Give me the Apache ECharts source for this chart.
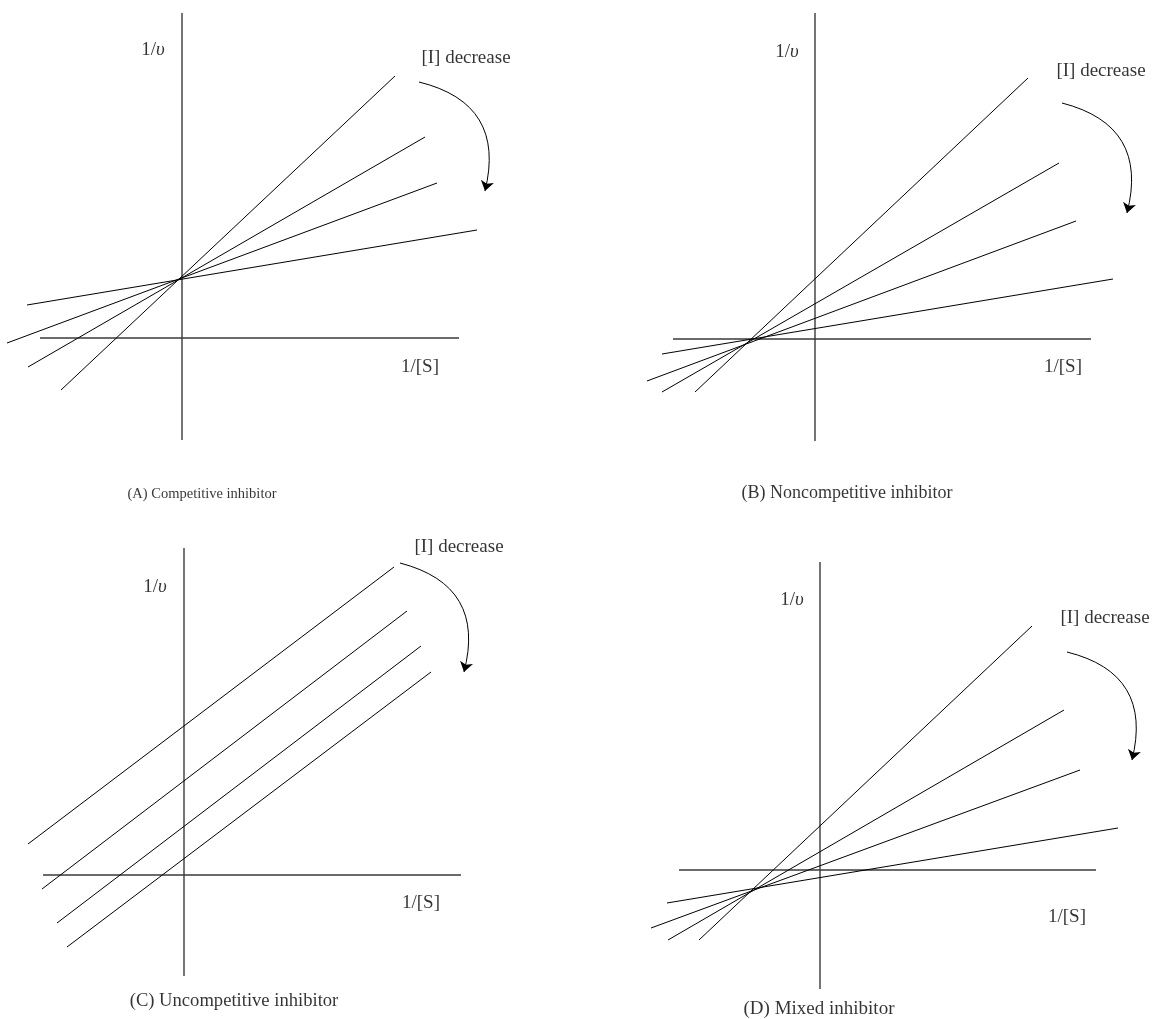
<!DOCTYPE html>
<html>
<head>
<meta charset="utf-8">
<script src="https://cdn.jsdelivr.net/npm/echarts@6/dist/echarts.min.js"></script>
<style>
  html, body { margin: 0; padding: 0; background: #fff; }
  #chart { width: 1158px; height: 1019px; }
</style>
</head>
<body>
<div id="chart"></div>
<script>
// ---- DATA (panel units, origin at the axis crossing, y upward) ----
const panelNames = ["A", "B", "C", "D"];
const captions = ["(A) Competitive inhibitor", "(B) Noncompetitive inhibitor",
                  "(C) Uncompetitive inhibitor", "(D) Mixed inhibitor"];
const yLabel = "1/υ";
const xLabel = "1/[S]";
const trendLabel = "[I] decrease";

// axis extents: [xmin, xmax], [ymin, ymax]
const axisA = [[-142, 277], [-102, 325]];
const axisB = [[-142, 276], [-102, 326]];
const axisC = [[-141, 277], [-101, 327]];
const axisD = [[-141, 276], [-119, 308]];

// inhibitor lines: [x1, y1, x2, y2], from highest [I] to lowest
const linesA = [[-121, -52, 213, 262], [-154, -29, 243, 201], [-175, -5, 255, 155], [-155, 33, 295, 108]];
const linesB = [[-120, -53, 213, 261], [-153, -53, 244, 176], [-168, -42, 261, 118], [-153, -15, 298, 60]];
const linesC = [[-156, 31, 210, 308], [-142, -14, 223, 264], [-127, -48, 237, 229], [-117, -72, 247, 203]];
const linesD = [[-121, -70, 212, 244], [-152, -70, 244, 160], [-169, -58, 260, 100], [-153, -33, 298, 42]];

// ---- LAYOUT ----
const W = 1158, H = 1019;
// pixel position of each panel's axis crossing
const origins = [[182, 338], [815, 339], [184, 875], [820, 870]];
// annotation anchors in panel units
const layout = [
  { yLab: [-29, 288], trend: [284, 280], xLab: [238, -29], cap: [20, -156], capSize: 14.5, arrow: [[237, 256], [303, 147]] },
  { yLab: [-28, 287], trend: [286, 268], xLab: [248, -28], cap: [32, -154], capSize: 18, arrow: [[247, 236], [312, 126]] },
  { yLab: [-29, 288], trend: [275, 328], xLab: [237, -28], cap: [50, -126], capSize: 18.6, arrow: [[216, 312], [280, 203]] },
  { yLab: [-28, 270], trend: [285, 252], xLab: [247, -47], cap: [-1, -139], capSize: 19, arrow: [[247, 218], [312, 110]] }
];
const axesAll = [axisA, axisB, axisC, axisD];
const linesAll = [linesA, linesB, linesC, linesD];

const FONT = '"Liberation Serif", "DejaVu Serif", serif';

const grids = [], xAxes = [], yAxes = [], series = [];
for (let i = 0; i < 4; i++) {
  const [ox, oy] = origins[i];
  grids.push({ left: 0, top: 0, right: 0, bottom: 0, containLabel: false, show: false });
  xAxes.push({ type: 'value', gridIndex: i, min: -ox, max: W - ox, show: false });
  yAxes.push({ type: 'value', gridIndex: i, min: -(H - oy), max: oy, show: false });

  const ax = axesAll[i];
  // coordinate axes
  series.push({
    type: 'line', xAxisIndex: i, yAxisIndex: i, symbol: 'none', silent: true,
    data: [[ax[0][0], 0], [ax[0][1], 0]],
    lineStyle: { color: '#3a3a3a', width: 1.4 }
  });
  series.push({
    type: 'line', xAxisIndex: i, yAxisIndex: i, symbol: 'none', silent: true,
    data: [[0, ax[1][0]], [0, ax[1][1]]],
    lineStyle: { color: '#3a3a3a', width: 1.4 }
  });
  // inhibitor lines
  linesAll[i].forEach(function (l) {
    series.push({
      type: 'line', xAxisIndex: i, yAxisIndex: i, symbol: 'none', silent: true,
      data: [[l[0], l[1]], [l[2], l[3]]],
      lineStyle: { color: '#000', width: 1 }
    });
  });
  const L = layout[i];
  // curved arrow
  series.push({
    type: 'lines', coordinateSystem: 'cartesian2d', xAxisIndex: i, yAxisIndex: i, silent: true,
    symbol: ['none', 'arrow'], symbolSize: [6, 10],
    itemStyle: { color: '#000' },
    lineStyle: { color: '#000', width: 1, opacity: 1, curveness: 0.5 },
    data: [{ coords: L.arrow }]
  });
  // text labels
  const txt = { fontFamily: FONT, fontSize: 19, color: '#000' };
  series.push({
    type: 'scatter', xAxisIndex: i, yAxisIndex: i, symbolSize: 0, silent: true,
    data: [
      { name: 'y', value: L.yLab, label: { formatter: '{n|1/}{i|υ}', rich: { n: txt, i: Object.assign({}, txt, { fontStyle: 'italic' }) } } },
      { name: 'trend', value: L.trend, label: { formatter: trendLabel } },
      { name: 'x', value: L.xLab, label: { formatter: xLabel } },
      { name: 'cap', value: L.cap, label: { formatter: captions[i], fontSize: L.capSize } }
    ],
    label: Object.assign({ show: true, position: 'inside', align: 'center', verticalAlign: 'middle' }, txt)
  });
}

const chart = echarts.init(document.getElementById('chart'), null, { renderer: 'canvas' });
chart.setOption({
  animation: false,
  backgroundColor: '#fff',
  grid: grids,
  xAxis: xAxes,
  yAxis: yAxes,
  series: series
});
</script>
</body>
</html>
